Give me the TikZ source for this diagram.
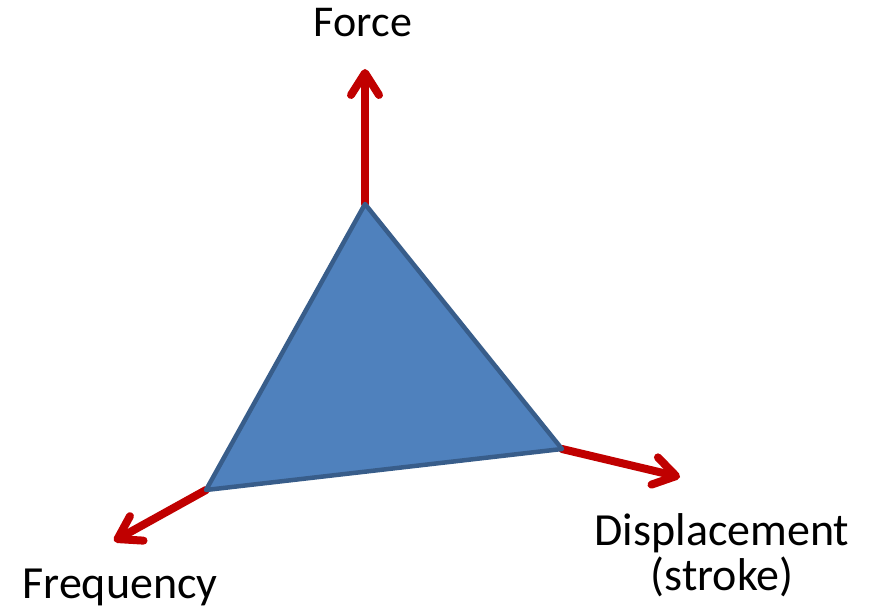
\documentclass[tikz,border=0pt]{standalone}
\usepackage{fontspec}
\setmainfont{Carlito}
\usetikzlibrary{arrows.meta}

\definecolor{axisred}{RGB}{192,0,0}
\definecolor{faceblue}{RGB}{79,129,189}
\definecolor{edgeblue}{RGB}{56,93,138}

\tikzset{
  axis/.style={axisred, line width=8pt, line cap=round,
    -{Straight Barb[length=22pt, width=28pt, line cap=round, line join=round]}},
  face/.style={fill=faceblue, draw=edgeblue, line width=4.5pt, line join=round},
  lbl/.style={font=\fontsize{46}{45}\selectfont, inner sep=0pt, align=center}
}

\begin{document}
\begin{tikzpicture}[x=1pt, y=-1pt]
  \useasboundingbox (0,0) rectangle (873,609);

  % 1. 三角形的頂點與軸的端點
  \coordinate (T) at (365,204);
  \coordinate (R) at (562,449);
  \coordinate (L) at (206,490);
  \coordinate (Ftip) at (365,69);
  \coordinate (Dtip) at (680,477);
  \coordinate (Qtip) at (114,541);

  % 2. 三條軸
  \draw[axis] (T) -- (Ftip);
  \draw[axis] (R) -- (Dtip);
  \draw[axis] (L) -- (Qtip);

  % 3. 三角形
  \draw[face] (T) -- (R) -- (L) -- cycle;

  % 4. 標籤
  \node[lbl, font=\fontsize{44}{45}\selectfont, anchor=base] (force) at (363,37) {Force};
  \node[lbl, anchor=base] (disp) at (722,590) {Displacement\\(stroke)};
  \node[lbl, anchor=base] (freq) at (120,598) {Frequency};
\end{tikzpicture}
\end{document}
